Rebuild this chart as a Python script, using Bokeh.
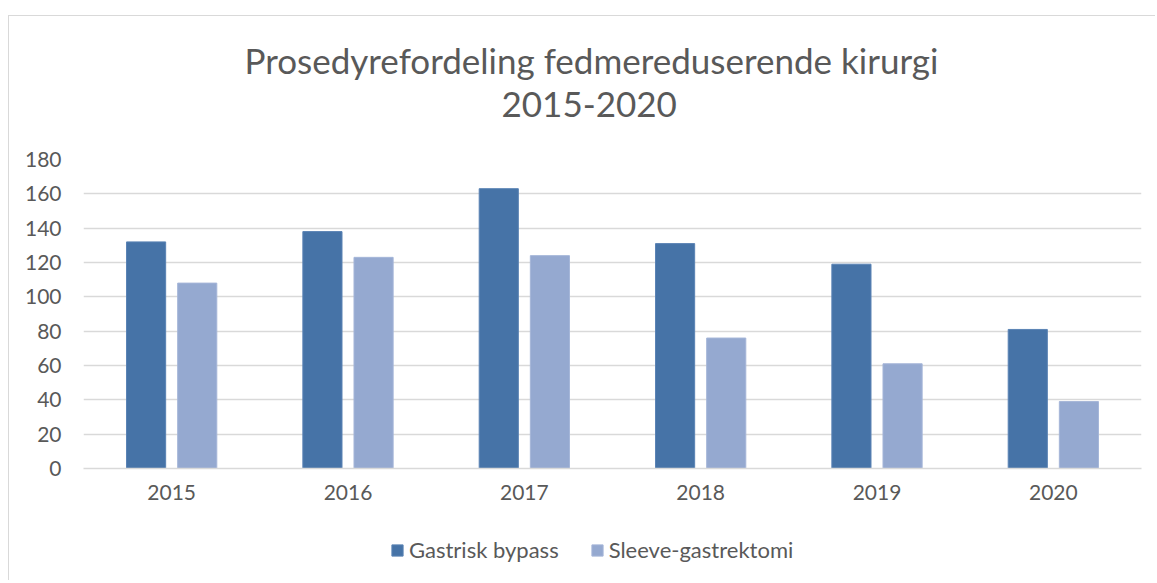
from bokeh.plotting import figure
from bokeh.layouts import column
from bokeh.models import Range1d, FactorRange, ColumnDataSource, Title, Legend, LegendItem
from bokeh.transform import dodge
from bokeh.embed import file_html
from bokeh.resources import INLINE

years = ["2015", "2016", "2017", "2018", "2019", "2020"]
gastrisk_bypass = [132, 138, 163, 131, 119, 81]
sleeve = [108, 123, 124, 76, 61, 39]
series_names = ["Gastrisk bypass", "Sleeve-gastrektomi"]
y_ticks = [0, 20, 40, 60, 80, 100, 120, 140, 160, 180]
title_lines = ["Prosedyrefordeling fedmereduserende kirurgi", "2015-2020"]

C1 = "#4673a7"
C2 = "#95a9d0"
L1 = "#5a83b4"
L2 = "#a5b6d8"
TXT = "#595959"
FONT = "Lato"

src = ColumnDataSource(dict(year=years, gb=gastrisk_bypass, sl=sleeve))

p = figure(width=1146, height=500, x_range=FactorRange(*years, range_padding=0),
           y_range=Range1d(0, 180), output_backend="svg", toolbar_location=None,
           min_border_left=74, min_border_right=14, min_border_top=143, min_border_bottom=48)
p.outline_line_color = None

p.vbar(x=dodge("year", -0.145, range=p.x_range), top="gb", width=0.222, source=src,
       fill_color=C1, line_color=L1, line_width=1)
p.vbar(x=dodge("year", 0.145, range=p.x_range), top="sl", width=0.222, source=src,
       fill_color=C2, line_color=L2, line_width=1)

p.xgrid.grid_line_color = None
p.ygrid.grid_line_color = "#d9d9d9"
p.ygrid.grid_line_width = 1.5
p.yaxis.ticker = y_ticks
p.yaxis.axis_line_color = None
p.yaxis.major_tick_line_color = None
p.yaxis.minor_tick_line_color = None
p.yaxis.major_label_standoff = 16
p.xaxis.axis_line_color = "#d9d9d9"
p.xaxis.axis_line_width = 1.5
p.xaxis.major_tick_line_color = None
p.xaxis.minor_tick_line_color = None
p.xaxis.major_label_standoff = 10
for ax in (p.xaxis[0], p.yaxis[0]):
    ax.major_label_text_font = FONT
    ax.major_label_text_font_size = "21px"
    ax.major_label_text_color = TXT

spacer = Title(text=" ", text_font_size="1px", standoff=40)
t2 = Title(text=title_lines[1], align="left", offset=418, text_font=FONT, text_font_size="35px",
           text_color=TXT, text_font_style="normal", standoff=0)
t1 = Title(text=title_lines[0], align="left", offset=161, text_font=FONT,
           text_font_size="35px", text_color=TXT, text_font_style="normal", standoff=17)
p.add_layout(spacer, "above")
p.add_layout(t2, "above")
p.add_layout(t1, "above")

# legend strip below the chart (hidden proxy renderers only supply the legend swatches)
lf = figure(width=1146, height=64, x_range=FactorRange(*years), y_range=Range1d(0, 1),
            output_backend="svg", toolbar_location=None, x_axis_location=None,
            y_axis_location=None, min_border=0, min_border_left=0, min_border_right=0,
            min_border_top=0, min_border_bottom=0)
lf.outline_line_color = None
lf.grid.visible = False
g1 = lf.vbar(x="year", top="gb", width=0.2, source=src, fill_color=C1, line_color=L1, visible=False)
g2 = lf.vbar(x="year", top="sl", width=0.2, source=src, fill_color=C2, line_color=L2, visible=False)
legend = Legend(items=[LegendItem(label=series_names[0], renderers=[g1]),
                       LegendItem(label=series_names[1], renderers=[g2])],
                orientation="horizontal", location=(307, 17),
                label_text_font=FONT, label_text_font_size="22px", label_text_color=TXT,
                glyph_width=14, glyph_height=14, spacing=31, label_standoff=5,
                inactive_fill_alpha=0, click_policy="none",
                border_line_color=None, background_fill_alpha=0, margin=0, padding=0)
lf.add_layout(legend, "center")

layout = column(p, lf, spacing=0)
layout.styles = {"margin-left": "8px", "margin-top": "15px",
                 "border-left": "1px solid #d9d9d9", "border-top": "1px solid #d9d9d9"}

open("out.html", "w").write(file_html(layout, INLINE))
